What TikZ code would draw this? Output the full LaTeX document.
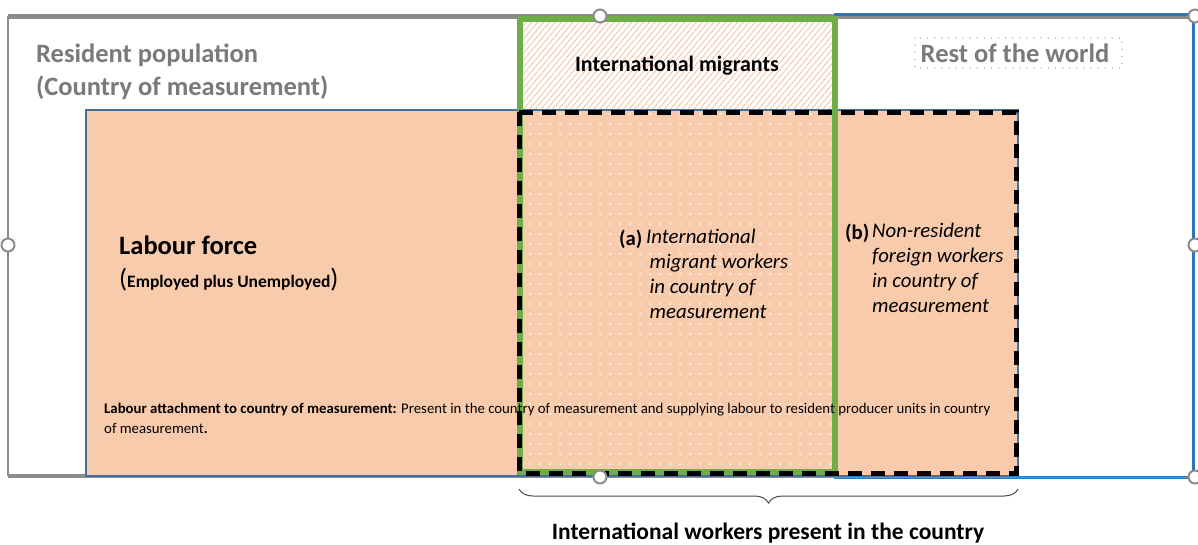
\documentclass[tikz,border=0pt]{standalone}
\usepackage{fontspec}
\setmainfont{Carlito}
\usetikzlibrary{patterns.meta,decorations.pathreplacing}
\definecolor{salmon}{HTML}{F8CBAD}
\definecolor{lfblue}{HTML}{41719C}
\definecolor{rwblue}{HTML}{2E75B6}
\definecolor{migreen}{HTML}{70AD47}
\definecolor{framegray}{HTML}{8C8C8C}
\definecolor{txtgray}{HTML}{7A7A7A}
\definecolor{hatchor}{HTML}{F6BE9A}
\definecolor{dotblue}{HTML}{9DC3E6}
\tikzset{
  handle/.style={circle,draw=framegray,fill=white,line width=2pt,minimum size=13pt,inner sep=0pt},
  bigtxt/.style={font=\fontsize{26.5}{30}\selectfont\bfseries,inner sep=0pt},
  itxt/.style={font=\fontsize{20.8}{25}\selectfont\itshape,inner sep=0pt,align=left},
  labtxt/.style={font=\fontsize{20.8}{25}\selectfont\bfseries,inner sep=0pt},
}
\begin{document}
\begin{tikzpicture}[x=1pt,y=-1pt]
\useasboundingbox[fill=white] (0,0) rectangle (1198,544);
% outer resident population frame
\draw[framegray,line width=1.5pt] (8,16) -- (8,476);
\draw[framegray,line width=5pt] (8,16) -- (1195,16);
% rest of the world
\draw[rwblue,line width=3pt] (835,14) rectangle (1193,477);
\draw[framegray,line width=4pt] (8,476) -- (835,476);
% international migrants hatched top
\fill[white] (520,19) rectangle (835,110);
\fill[pattern={Lines[angle=50,distance=4.5pt,line width=0.8pt]},pattern color=hatchor] (520,19) rectangle (835,110);
% labour force
\draw[lfblue,fill=salmon,line width=1.2pt] (86,110) rectangle (1018,476);
% dotted area
\fill[pattern={Dots[distance=10pt,radius=1pt]},pattern color=white] (523,113) rectangle (832,470);
% green migrants box
\draw[migreen,line width=6pt] (520,19) rectangle (835,472);
% dashed workers box
\draw[black,line width=5pt,dash pattern=on 14pt off 9pt] (519,112) -- (1016,112) -- (1016,473) -- (519,473) -- cycle;
\draw[framegray,line width=1pt] (8,477) -- (1192,477);
% handles
\node[handle] (h1) at (600,16) {};
\node[handle] (h2) at (1195,16) {};
\node[handle] (h3) at (8,245) {};
\node[handle] (h4) at (1195,245) {};
\node[handle] (h5) at (600,477) {};
\node[handle] (h6) at (1195,477) {};
% texts
\node[bigtxt,text=txtgray,anchor=base west] (rp1) at (36,62) {Resident population};
\node[bigtxt,text=txtgray,anchor=base west] (rp2) at (36,95) {(Country of measurement)};
\node[font=\fontsize{22}{24}\selectfont\bfseries,inner sep=0pt,anchor=base] (im) at (677,71) {International migrants};
\draw[dotblue,line width=1.3pt,dash pattern=on 0.1pt off 7pt,line cap=round] (915,38) rectangle (1122,68);
\node[bigtxt,text=txtgray,anchor=base] (rw) at (1015,62) {Rest of the world};
\node[bigtxt,anchor=base west] (lf) at (119,254) {Labour force};
\node[inner sep=0pt,anchor=base west] (lf2) at (119,287) {\fontsize{26.5}{30}\selectfont(\fontsize{17.5}{20}\selectfont\bfseries Employed plus Unemployed\fontsize{26.5}{30}\selectfont\mdseries)};
\node[labtxt,anchor=base west] (aa) at (619,245) {(a)};
\node[itxt,anchor=north west] (ab) at (646,229) {International\\\,migrant workers\\\,in country of\\\,measurement};
\node[labtxt,anchor=base west] (ba) at (845,239) {(b)};
\node[itxt,anchor=north west] (bb) at (872,223) {Non-resident\\foreign workers\\in country of\\measurement};
\node[font=\fontsize{14.8}{20}\selectfont,inner sep=0pt,anchor=base west,align=left] (att) at (104,433) {\textbf{Labour attachment to country of measurement:} Present in the country of measurement and supplying labour to resident producer units in country\\of measurement\textbf{.}};
% brace
\coordinate (bl) at (519,489);
\coordinate (br) at (1018,489);
\draw[black!70,line width=1pt,decorate,decoration={brace,mirror,amplitude=14pt}] (bl) -- (br);
\node[font=\fontsize{23.5}{26}\selectfont\bfseries,inner sep=0pt,anchor=base] (iw) at (768,539) {International workers present in the country};
\end{tikzpicture}
\end{document}
